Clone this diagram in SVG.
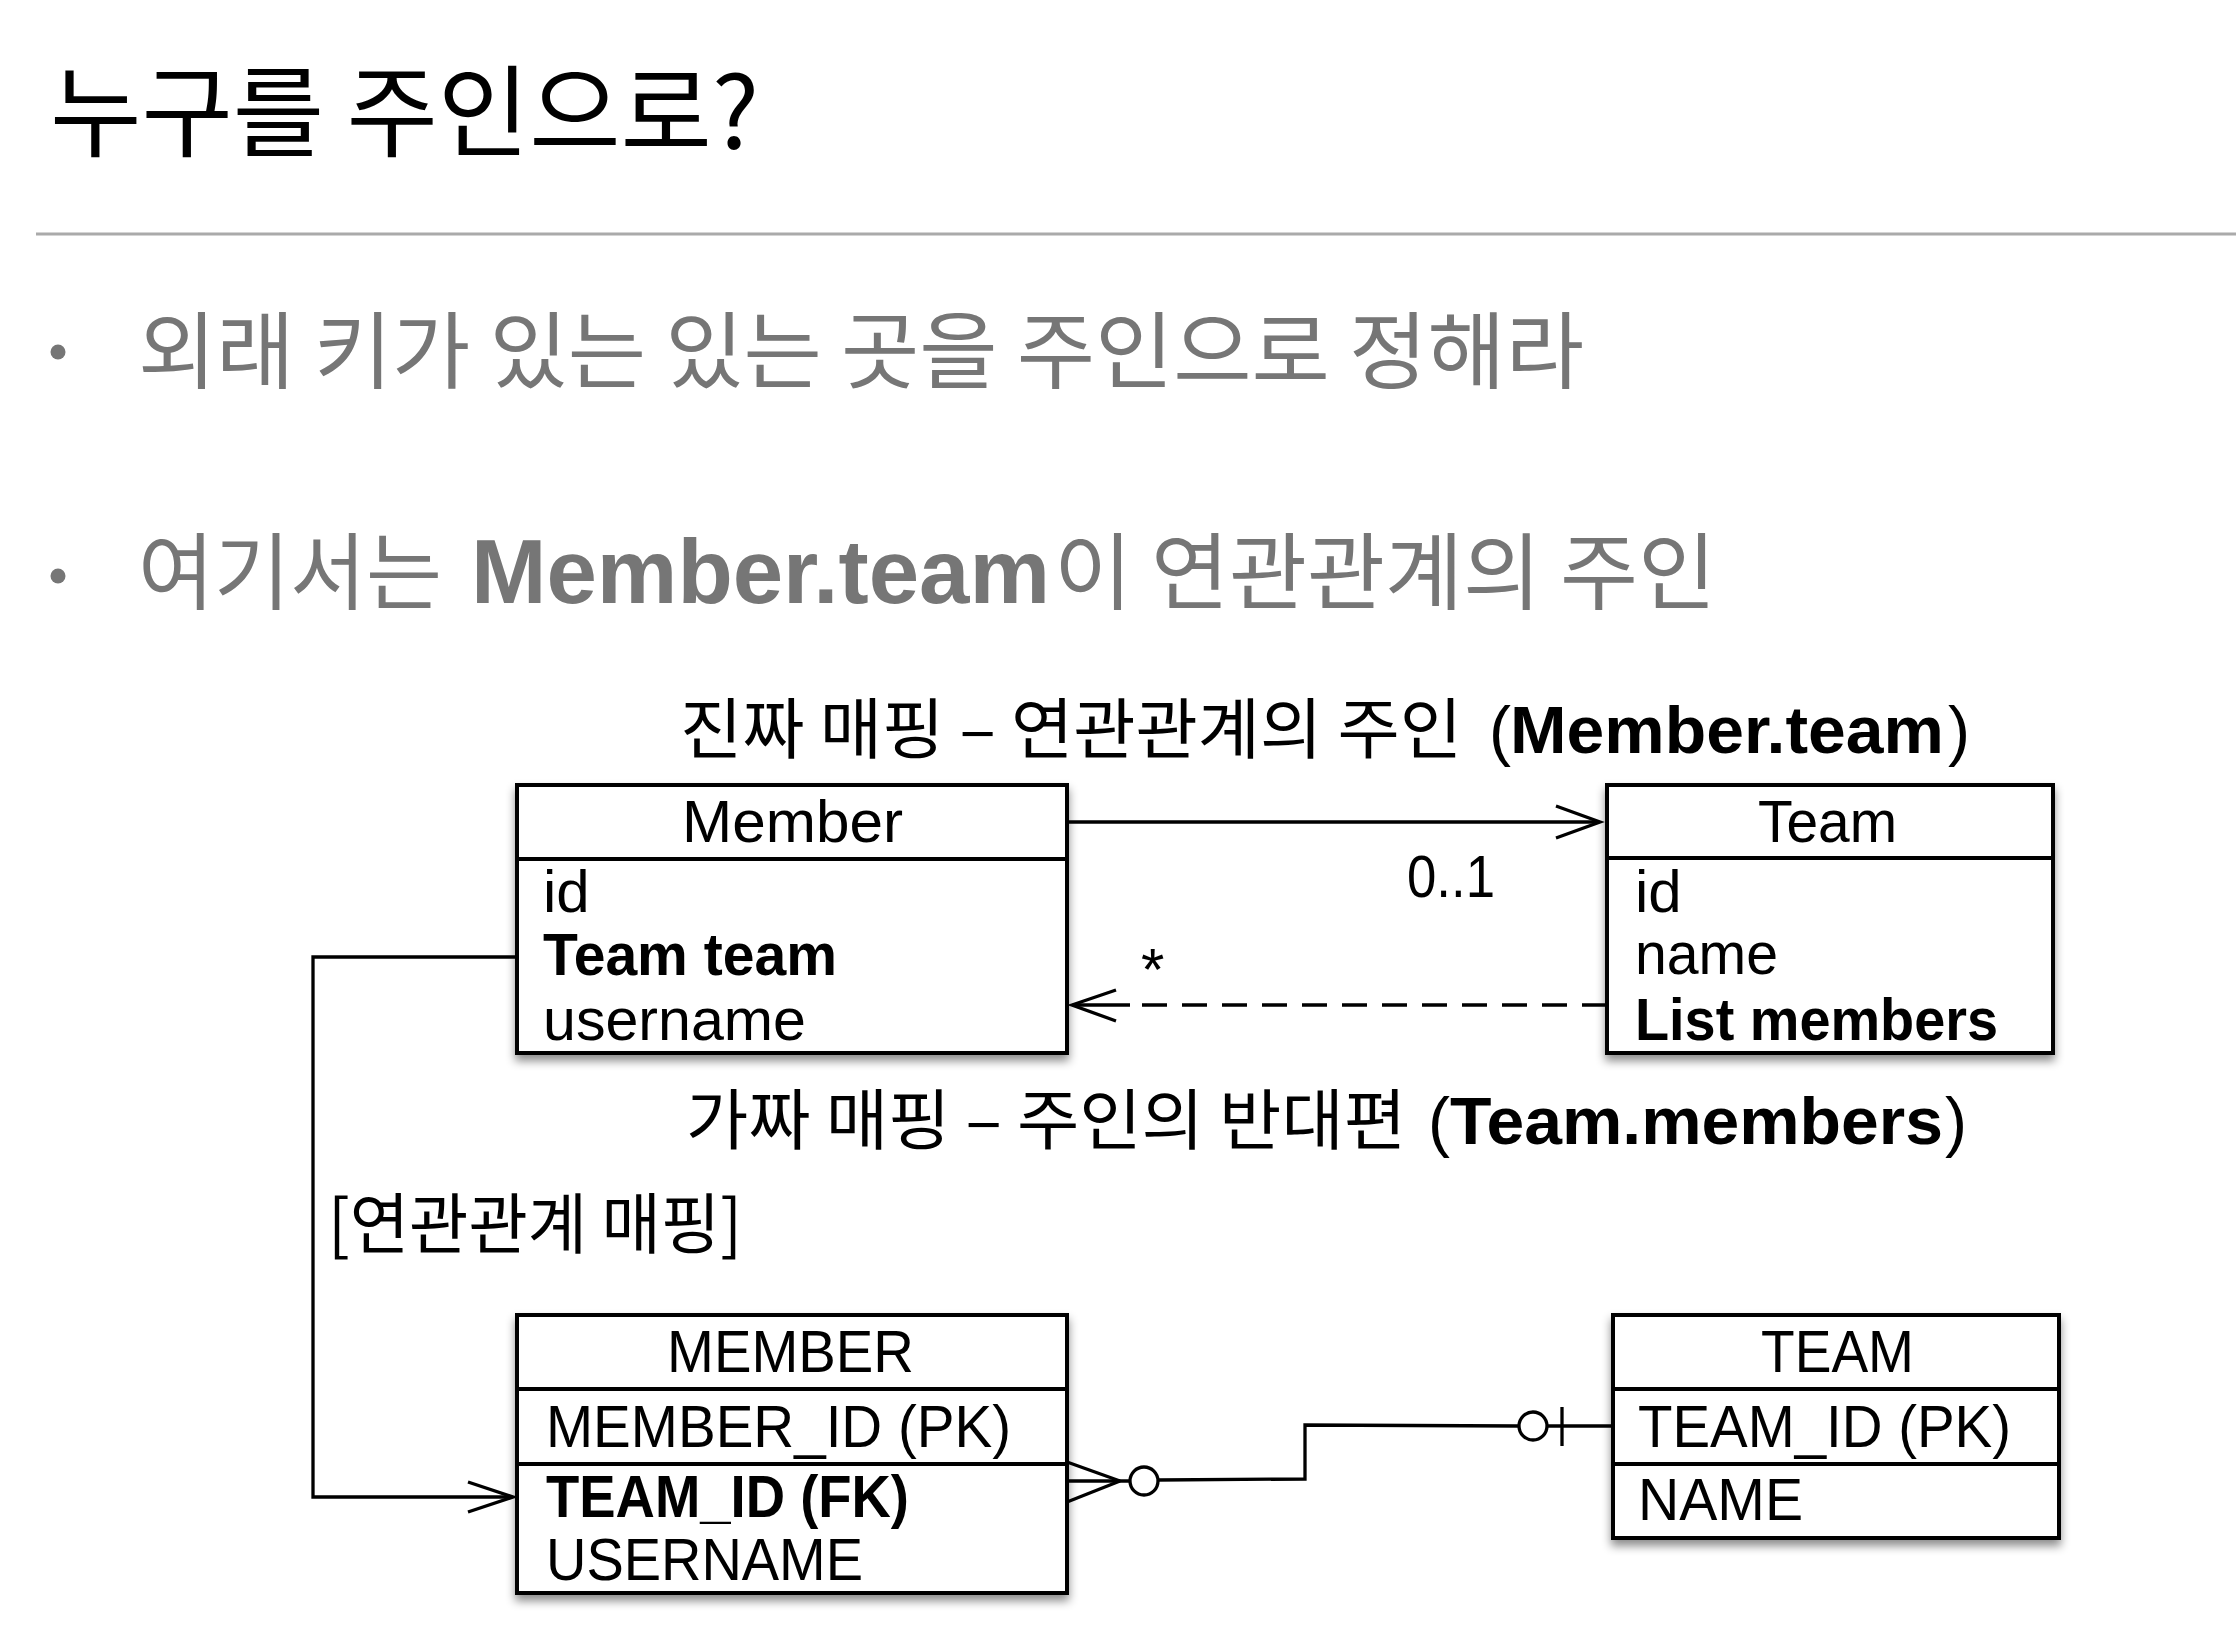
<svg xmlns="http://www.w3.org/2000/svg" width="2236" height="1635" viewBox="0 0 2236 1635">
<defs>
<style>
.title{font-family:"Noto Sans CJK KR","Liberation Sans",sans-serif;font-size:100px;fill:#000}
.bul{font-family:"Noto Sans CJK KR","Liberation Sans",sans-serif;font-size:84px;fill:#767676}
.bulb{font-family:"Liberation Sans","Noto Sans CJK KR",sans-serif;font-weight:bold;font-size:90px;fill:#767676}
.ko{font-family:"Noto Sans CJK KR","Liberation Sans",sans-serif;font-size:66px;fill:#000}
.lat{font-family:"Liberation Sans","Noto Sans CJK KR",sans-serif;font-size:66px;fill:#000}
.latb{font-family:"Liberation Sans","Noto Sans CJK KR",sans-serif;font-weight:bold;font-size:66px;fill:#000}
.t{font-family:"Liberation Sans","Noto Sans CJK KR",sans-serif;font-size:60px;fill:#000}
.tb{font-family:"Liberation Sans","Noto Sans CJK KR",sans-serif;font-size:60px;font-weight:bold;fill:#000}
.box{fill:#fff;stroke:#000;stroke-width:4}
.div{stroke:#000;stroke-width:4;fill:none}
.ln{stroke:#000;stroke-width:3.3;fill:none;stroke-linejoin:miter}
.dash{stroke:#000;stroke-width:3.3;fill:none;stroke-dasharray:25 15}
.circ{fill:#fff;stroke:#000;stroke-width:3.3}
</style>
<filter id="sh" x="-10%" y="-10%" width="120%" height="130%">
<feDropShadow dx="0" dy="6" stdDeviation="5" flood-color="#000" flood-opacity="0.45"/>
</filter>
</defs>
<rect x="0" y="0" width="2236" height="1635" fill="#fff"/>

<g id="header">
<text class="title" x="50" y="149" textLength="709" lengthAdjust="spacingAndGlyphs">누구를 주인으로?</text>
<line x1="36" y1="234" x2="2236" y2="234" stroke="#aaaaaa" stroke-width="3"/>
</g>

<g id="bullets">
<circle cx="58" cy="352" r="7.5" fill="#767676"/>
<text class="bul" x="138" y="382" textLength="1446" lengthAdjust="spacingAndGlyphs">외래 키가 있는 있는 곳을 주인으로 정해라</text>
<circle cx="58" cy="576" r="7.5" fill="#767676"/>
<text class="bul" x="138" y="603" textLength="304" lengthAdjust="spacingAndGlyphs">여기서는</text>
<text class="bulb" x="471" y="603" textLength="579" lengthAdjust="spacingAndGlyphs">Member.team</text>
<text class="bul" x="1054" y="603" textLength="662" lengthAdjust="spacingAndGlyphs">이 연관관계의 주인</text>
</g>

<g id="labels">
<text class="ko" x="680" y="753" textLength="782" lengthAdjust="spacingAndGlyphs">진짜 매핑 – 연관관계의 주인</text>
<text class="lat" x="1489" y="753">(</text>
<text class="latb" x="1510" y="753" textLength="434" lengthAdjust="spacingAndGlyphs">Member.team</text>
<text class="lat" x="1948" y="753">)</text>
<text class="ko" x="686" y="1144" textLength="720" lengthAdjust="spacingAndGlyphs">가짜 매핑 – 주인의 반대편</text>
<text class="lat" x="1428" y="1144">(</text>
<text class="latb" x="1450" y="1144" textLength="493" lengthAdjust="spacingAndGlyphs">Team.members</text>
<text class="lat" x="1945" y="1144">)</text>
<text class="ko" x="328" y="1248" textLength="414" lengthAdjust="spacingAndGlyphs">[연관관계 매핑]</text>
</g>

<g id="connectors">
<line class="ln" x1="1067" y1="822" x2="1599" y2="822"/>
<polyline class="ln" points="1556,806 1600,822 1556,838"/>
<text class="t" x="1407" y="897" textLength="88" lengthAdjust="spacingAndGlyphs">0..1</text>
<line class="dash" x1="1607" y1="1005" x2="1130" y2="1005"/>
<line class="ln" x1="1074" y1="1005" x2="1130" y2="1005"/>
<polyline class="ln" points="1116,990 1072,1005 1116,1021"/>
<text class="t" x="1141" y="990">*</text>
<polyline class="ln" points="517,957 313,957 313,1497 512,1497"/>
<polyline class="ln" points="468,1482 513,1497 468,1512"/>
<line class="ln" x1="1067" y1="1462" x2="1120" y2="1481"/>
<line class="ln" x1="1067" y1="1481" x2="1130" y2="1481"/>
<line class="ln" x1="1067" y1="1502" x2="1120" y2="1481"/>
<circle class="circ" cx="1144" cy="1481" r="14"/>
<polyline class="ln" points="1158,1480 1305,1479 1305,1425 1519,1426"/>
<circle class="circ" cx="1533" cy="1426" r="14"/>
<line class="ln" x1="1547" y1="1426" x2="1613" y2="1426"/>
<line class="ln" x1="1562" y1="1407" x2="1562" y2="1446"/>
</g>

<g id="member-class">
<rect class="box" x="517" y="785" width="550" height="268" filter="url(#sh)"/>
<line class="div" x1="517" y1="859" x2="1067" y2="859"/>
<text class="t" x="682" y="842" textLength="221" lengthAdjust="spacingAndGlyphs">Member</text>
<text class="t" x="543" y="912">id</text>
<text class="tb" x="543" y="975" textLength="294" lengthAdjust="spacingAndGlyphs">Team team</text>
<text class="t" x="543" y="1040" textLength="263" lengthAdjust="spacingAndGlyphs">username</text>
</g>

<g id="team-class">
<rect class="box" x="1607" y="785" width="446" height="268" filter="url(#sh)"/>
<line class="div" x1="1607" y1="858" x2="2053" y2="858"/>
<text class="t" x="1758" y="842" textLength="139" lengthAdjust="spacingAndGlyphs">Team</text>
<text class="t" x="1635" y="912">id</text>
<text class="t" x="1635" y="974" textLength="143" lengthAdjust="spacingAndGlyphs">name</text>
<text class="tb" x="1635" y="1040" textLength="363" lengthAdjust="spacingAndGlyphs">List members</text>
</g>

<g id="member-table">
<rect class="box" x="517" y="1315" width="550" height="278" filter="url(#sh)"/>
<line class="div" x1="517" y1="1389" x2="1067" y2="1389"/>
<line class="div" x1="517" y1="1464" x2="1067" y2="1464"/>
<text class="t" x="667" y="1372" textLength="247" lengthAdjust="spacingAndGlyphs">MEMBER</text>
<text class="t" x="546" y="1447" textLength="465" lengthAdjust="spacingAndGlyphs">MEMBER_ID (PK)</text>
<text class="tb" x="546" y="1517" textLength="363" lengthAdjust="spacingAndGlyphs">TEAM_ID (FK)</text>
<text class="t" x="546" y="1580" textLength="317" lengthAdjust="spacingAndGlyphs">USERNAME</text>
</g>

<g id="team-table">
<rect class="box" x="1613" y="1315" width="446" height="223" filter="url(#sh)"/>
<line class="div" x1="1613" y1="1389" x2="2059" y2="1389"/>
<line class="div" x1="1613" y1="1464" x2="2059" y2="1464"/>
<text class="t" x="1761" y="1372" textLength="153" lengthAdjust="spacingAndGlyphs">TEAM</text>
<text class="t" x="1638" y="1447" textLength="373" lengthAdjust="spacingAndGlyphs">TEAM_ID (PK)</text>
<text class="t" x="1638" y="1520" textLength="165" lengthAdjust="spacingAndGlyphs">NAME</text>
</g>
</svg>
